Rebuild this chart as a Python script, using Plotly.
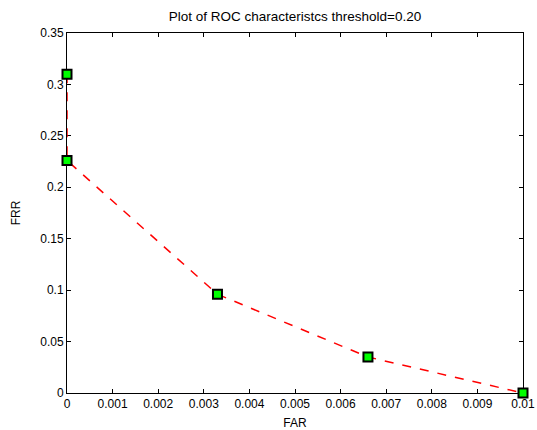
import plotly.graph_objects as go

far = [0.0, 0.0, 0.0033, 0.0066, 0.01]
frr = [0.31, 0.226, 0.096, 0.035, 0.0]

x_ticks = [0, 0.001, 0.002, 0.003, 0.004, 0.005, 0.006, 0.007, 0.008, 0.009, 0.01]
x_tick_labels = ["0", "0.001", "0.002", "0.003", "0.004", "0.005", "0.006", "0.007", "0.008", "0.009", "0.01"]
y_ticks = [0, 0.05, 0.1, 0.15, 0.2, 0.25, 0.3, 0.35]
y_tick_labels = ["0", "0.05", "0.1", "0.15", "0.2", "0.25", "0.3", "0.35"]

FONT = "Liberation Sans, Arial"

fig = go.Figure()
fig.add_trace(go.Scatter(
    x=far, y=frr, mode="lines+markers",
    line=dict(color="#ff0000", width=1.5, dash="dash", shape="linear"),
    marker=dict(symbol="square", size=9, color="#00ff00",
                line=dict(color="black", width=2)),
    cliponaxis=False, showlegend=False,
))

axis_common = dict(
    showgrid=False, zeroline=False, showline=True, linecolor="black", linewidth=1,
    mirror="ticks", ticks="inside", ticklen=4, tickcolor="black", automargin=False,
    layer="below traces",
    tickfont=dict(family=FONT, size=12, color="black"),
)
fig.update_xaxes(range=[0, 0.01], tickvals=x_ticks, ticktext=x_tick_labels,
                 title=dict(text="FAR", font=dict(family=FONT, size=12, color="black"), standoff=8),
                 **axis_common)
fig.update_yaxes(range=[0, 0.35], tickvals=y_ticks, ticktext=y_tick_labels,
                 title=dict(text="FRR", font=dict(family=FONT, size=12, color="black"), standoff=17),
                 **axis_common)

fig.update_layout(
    width=537, height=430,
    margin=dict(l=67, r=14, t=33, b=37, autoexpand=False),
    paper_bgcolor="white", plot_bgcolor="white",
    title=dict(text="Plot of ROC characteristcs threshold=0.20",
               font=dict(family=FONT, size=13.5, color="black"),
               x=0.5, xref="paper", xanchor="center",
               y=1 - 16 / 430, yref="container", yanchor="middle"),
)
fig.write_html("out.html", config={"displayModeBar": False},
               post_script="document.body.style.margin='0';document.body.style.overflow='hidden';")
